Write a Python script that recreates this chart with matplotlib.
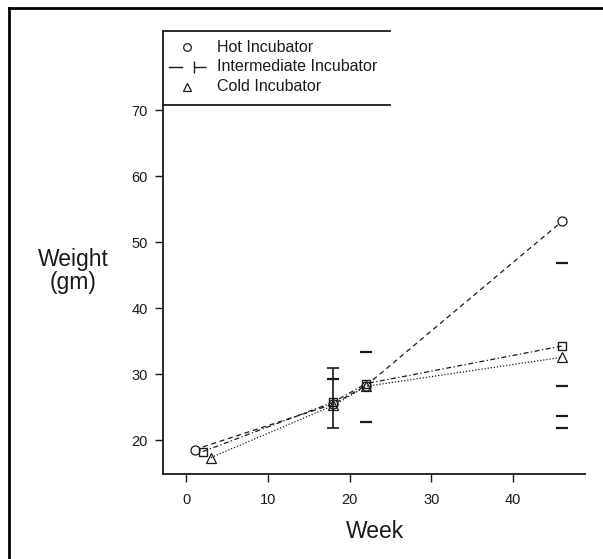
import matplotlib.pyplot as plt
from matplotlib.lines import Line2D
from matplotlib.path import Path

plt.rcParams['font.family'] = ['Liberation Sans', 'DejaVu Sans']

# データ
groups = ["Hot Incubator", "Intermediate Incubator", "Cold Incubator"]
hot_week = [1, 18, 22, 46]
hot_weight = [18.6, 25.5, 28.3, 53.2]
mid_week = [2, 18, 22, 46]
mid_weight = [18.3, 25.8, 28.6, 34.3]
cold_week = [3, 18, 22, 46]
cold_weight = [17.4, 25.3, 28.2, 32.6]

# 誤差範囲（week 18）
err_week = [18]
err_low = [21.9]
err_high = [31.0]

# 縦線のない範囲の端
end_week = [18, 22, 22, 46, 46, 46, 46]
end_weight = [29.3, 33.4, 22.8, 46.9, 28.3, 23.7, 21.9]

x_ticks = [0, 10, 20, 30, 40]
y_ticks = [20, 30, 40, 50, 60, 70]

ink = "#1a1a1a"


def main():
    fig = plt.figure(figsize=(6.03, 5.59), dpi=100)
    ax = fig.add_axes([0.270, 0.152, 0.700, 0.792])

    ax.plot(hot_week, hot_weight, linestyle=(0, (4, 3)), color=ink, lw=0.9,
            marker="o", mfc="white", mec=ink, ms=6.5, mew=0.9)
    ax.plot(mid_week, mid_weight, linestyle=(0, (4, 2, 1, 2)), color=ink, lw=0.9,
            marker="s", mfc="none", mec=ink, ms=6, mew=1.0)
    ax.plot(cold_week, cold_weight, linestyle=(0, (1, 1.5)), color=ink, lw=0.9,
            marker="^", mfc="none", mec=ink, ms=6.5, mew=0.9)

    # 誤差棒
    ax.vlines(err_week, err_low, err_high, color=ink, lw=1.2)
    ax.plot(err_week * 2, err_low + err_high, linestyle="none", marker="_",
            color=ink, ms=8, mew=1.2)
    ax.plot(end_week, end_weight, linestyle="none", marker="_",
            color=ink, ms=8, mew=1.6)

    ax.set_xlim(-2.9, 48.8)
    ax.set_ylim(14.9, 82)
    ax.set_xticks(x_ticks)
    ax.set_yticks(y_ticks)
    ax.spines["top"].set_visible(False)
    ax.spines["right"].set_visible(False)
    for s in ["left", "bottom"]:
        ax.spines[s].set_linewidth(1.3)
        ax.spines[s].set_color(ink)
    ax.tick_params(direction="out", length=6, width=1.0, colors=ink,
                   labelsize=10.5)
    ax.tick_params(axis="x", pad=8)
    ax.tick_params(axis="y", pad=5)

    # 凡例（上下の線だけ）
    ax.plot([-2.9, 24.9], [82, 82], color=ink, lw=1.3, clip_on=False)
    ax.plot([-2.9, 24.9], [70.8, 70.8], color=ink, lw=1.3, clip_on=False)
    leg_y = [79.6, 76.6, 73.6]
    ax.plot([0.1], [leg_y[0]], marker="o", mfc="white", mec=ink, ms=5.5,
            mew=0.9, linestyle="none")
    ax.plot([-2.1, -0.6], [leg_y[1], leg_y[1]], color=ink, lw=1.0)
    tee = Path([(-1, -1), (-1, 1), (-1, 0), (1, 0)],
               [Path.MOVETO, Path.LINETO, Path.MOVETO, Path.LINETO])
    ax.plot([1.6], [leg_y[1]], marker=tee, color=ink, ms=8, mew=1.0,
            linestyle="none")
    ax.plot([0.1], [leg_y[2]], marker="^", mfc="none", mec=ink, ms=5.5,
            mew=0.9, linestyle="none")
    for name, yy in zip(groups, leg_y):
        ax.text(3.7, yy, name, fontsize=11.5, color=ink, va="center", ha="left")

    fig.text(73 / 603, 1 - 271 / 559, "Weight\n(gm)", ha="center", va="center",
             fontsize=16.5, color=ink, linespacing=1.05)
    fig.text(375 / 603, 1 - 531 / 559, "Week", ha="center", va="center",
             fontsize=16.5, color=ink)

    # 外枠（左と上）
    fig.add_artist(Line2D([8.5 / 603, 8.5 / 603], [0, 1 - 8 / 559],
                          transform=fig.transFigure, color="black", lw=2))
    fig.add_artist(Line2D([8.5 / 603, 1], [1 - 8 / 559, 1 - 8 / 559],
                          transform=fig.transFigure, color="black", lw=2))

    fig.savefig("out.png", dpi=100)


if __name__ == "__main__":
    main()
